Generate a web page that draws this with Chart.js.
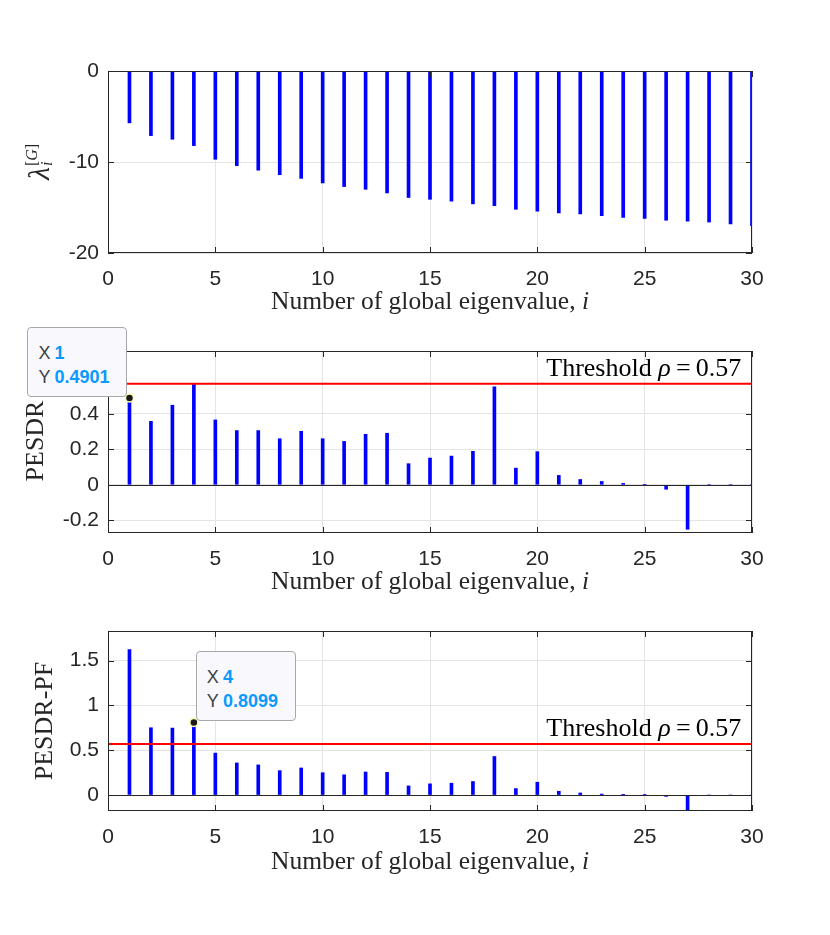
<!DOCTYPE html>
<html>
<head>
<meta charset="utf-8">
<script src="https://cdn.jsdelivr.net/npm/chart.js@4.4.0/dist/chart.umd.min.js"></script>
<style>
  body { margin: 0; background: #fff; }
  #wrap { position: relative; width: 830px; height: 935px; overflow: hidden; background: #fff; }
  canvas { position: absolute; left: 0; }
  .ttl { position: absolute; font-family: "Liberation Serif", "Times New Roman", serif; font-size: 25.5px;
         line-height: 24px; color: #262626; white-space: nowrap; }
  .xt { transform: translateX(-50%); }
  .yt { font-size: 26px; transform: translate(-50%, -50%) rotate(-90deg); }
  .lam { display: inline-flex; align-items: center; font-size: 30px; }
  .ss { display: inline-flex; flex-direction: column; font-size: 16px; line-height: 15px; margin-left: 1px; }
  .thr { position: absolute; font-family: "Liberation Serif", "Times New Roman", serif; font-size: 26px;
         line-height: 24px; color: #000; white-space: nowrap; transform: translateX(-100%); }
  .tip { position: absolute; width: 100px; height: 70px; box-sizing: border-box; background: #f9f9fd;
         border: 1px solid #a8a8a8; border-radius: 4px; font-family: "Liberation Sans", Arial, sans-serif;
         font-size: 18px; line-height: 24px; color: #404040; padding: 13px 0 0 10px; }
  .tip b { color: #0a99ff; margin-left: 4px; }
</style>
</head>
<body>
<div id="wrap">
  <canvas id="c1" width="830" height="320" style="top:0px"></canvas>
  <canvas id="c2" width="830" height="280" style="top:320px"></canvas>
  <canvas id="c3" width="830" height="335" style="top:600px"></canvas>

  <div class="ttl yt" style="left:39px;top:162px"><span class="lam"><i>λ</i><span class="ss"><span>[<i>G</i>]</span><span><i>i</i></span></span></span></div>
  <div class="ttl yt" style="left:35px;top:441px">PESDR</div>
  <div class="ttl yt" style="left:44px;top:721px">PESDR-PF</div>

  <div class="ttl xt" style="left:430px;top:289px">Number of global eigenvalue, <i>i</i></div>
  <div class="ttl xt" style="left:430px;top:569px">Number of global eigenvalue, <i>i</i></div>
  <div class="ttl xt" style="left:430px;top:849px">Number of global eigenvalue, <i>i</i></div>

  <div class="thr" id="thr2">Threshold <i>ρ</i>&thinsp;=&thinsp;0.57</div>
  <div class="thr" id="thr3">Threshold <i>ρ</i>&thinsp;=&thinsp;0.57</div>

  <div class="tip" id="tip2">X<b>1</b><br>Y<b>0.4901</b></div>
  <div class="tip" id="tip3">X<b>4</b><br>Y<b>0.8099</b></div>
</div>

<script>
// eigenvalue index
const eigIndex = [1, 2, 3, 4, 5, 6, 7, 8, 9, 10, 11, 12, 13, 14, 15,
                  16, 17, 18, 19, 20, 21, 22, 23, 24, 25, 26, 27, 28, 29, 30];

// global eigenvalues lambda_i^[G]
const lambdaG = [-5.7, -7.1, -7.5, -8.2, -9.7, -10.4, -10.9, -11.4, -11.8, -12.3,
                 -12.7, -13.0, -13.4, -13.9, -14.1, -14.3, -14.6, -14.8, -15.2, -15.4,
                 -15.6, -15.7, -15.9, -16.1, -16.2, -16.4, -16.5, -16.6, -16.8, -17.0];

// PESDR
const pesdr = [0.4901, 0.358, 0.449, 0.566, 0.366, 0.306, 0.306, 0.260, 0.302, 0.260,
               0.245, 0.285, 0.291, 0.119, 0.151, 0.162, 0.189, 0.553, 0.094, 0.187,
               0.053, 0.030, 0.019, 0.008, 0.002, -0.025, -0.251, 0, 0, 0];

// PESDR-PF
const pesdrPF = [1.623, 0.751, 0.747, 0.8099, 0.468, 0.358, 0.336, 0.272, 0.302, 0.249,
                 0.226, 0.257, 0.253, 0.102, 0.125, 0.132, 0.151, 0.430, 0.072, 0.143,
                 0.042, 0.023, 0.011, 0.008, 0.002, -0.015, -0.19, 0, 0, 0];

const threshold = 0.57;

const xTicks = [0, 5, 10, 15, 20, 25, 30];
const yTicksTop = [-20, -10, 0];
const yTicksMid = [-0.2, 0, 0.2, 0.4];
const yTicksBot = [0, 0.5, 1, 1.5];

const AX = '#262626';

// box, inward ticks, stem baseline, datatip dot, html overlays
const framePlugin = {
  id: 'frame',
  afterDatasetsDraw(chart, args, o) {
    if (!o.baseline) return;
    const { ctx, chartArea: a } = chart;
    const y0 = Math.round(chart.scales.y.getPixelForValue(0)) + 0.5;
    ctx.save();
    ctx.strokeStyle = AX;
    ctx.lineWidth = 1;
    ctx.beginPath();
    ctx.moveTo(a.left, y0);
    ctx.lineTo(a.right, y0);
    ctx.stroke();
    ctx.restore();
  },
  afterDraw(chart, args, o) {
    const { ctx, chartArea: a } = chart;
    const xs = chart.scales.x, ys = chart.scales.y;
    ctx.save();
    ctx.strokeStyle = AX;
    ctx.lineWidth = 1;
    ctx.strokeRect(a.left + 0.5, a.top + 0.5, a.right - a.left - 1, a.bottom - a.top - 1);
    ctx.beginPath();
    xs.ticks.forEach(t => {
      const px = Math.round(xs.getPixelForValue(t.value)) + 0.5;
      ctx.moveTo(px, a.bottom); ctx.lineTo(px, a.bottom - 6);
      ctx.moveTo(px, a.top); ctx.lineTo(px, a.top + 6);
    });
    ys.ticks.forEach(t => {
      const py = Math.round(ys.getPixelForValue(t.value)) + 0.5;
      ctx.moveTo(a.left, py); ctx.lineTo(a.left + 6, py);
      ctx.moveTo(a.right, py); ctx.lineTo(a.right - 6, py);
    });
    ctx.stroke();

    const offTop = chart.canvas.offsetTop;
    if (o.tip) {
      const px = xs.getPixelForValue(o.tip.x);
      const py = ys.getPixelForValue(o.tip.y);
      ctx.beginPath();
      ctx.arc(px, py, 4, 0, Math.PI * 2);
      ctx.fillStyle = '#1a1a1a';
      ctx.fill();
      ctx.strokeStyle = '#ffffb0';
      ctx.lineWidth = 1.5;
      ctx.stroke();
      const el = document.getElementById(o.tip.el);
      const left = o.tip.side === 'left' ? px - 2 - 100 : px + 2;
      el.style.left = left + 'px';
      el.style.top = (offTop + py - 1 - 70) + 'px';
    }
    if (o.label) {
      const el = document.getElementById(o.label.el);
      el.style.left = xs.getPixelForValue(o.label.x) + 'px';
      el.style.top = (offTop + ys.getPixelForValue(threshold) - 8 - 20) + 'px';
    }
    ctx.restore();
  }
};

function stems(vals) {
  return eigIndex.map((x, i) => ({ x: x, y: vals[i] }));
}

function makePanel(canvasId, plotTop, plotBottom, vals, yMin, yMax, yTicks, extra) {
  const canvas = document.getElementById(canvasId);
  const top = canvas.offsetTop;
  const datasets = [{
    type: 'bar',
    data: stems(vals),
    backgroundColor: '#0000ff',
    borderWidth: 0,
    barThickness: 3,
    order: 2
  }];
  if (extra.threshold) {
    datasets.push({
      type: 'line',
      data: [{ x: 0, y: threshold }, { x: 30, y: threshold }],
      borderColor: '#ff0000',
      borderWidth: 2,
      pointRadius: 0,
      order: 1
    });
  }
  return new Chart(canvas, {
    type: 'bar',
    data: { datasets },
    plugins: [framePlugin],
    options: {
      responsive: false,
      animation: false,
      devicePixelRatio: 1,
      layout: { padding: { left: 0, right: 830 - 752, top: plotTop - top, bottom: 0 } },
      scales: {
        x: {
          type: 'linear', min: 0, max: 30, offset: false,
          afterBuildTicks: s => { s.ticks = xTicks.map(v => ({ value: v })); },
          afterFit: s => { s.height = canvas.height - (plotBottom - top); },
          grid: { color: '#e4e4e4', drawTicks: false, offset: false },
          border: { display: false },
          ticks: { color: AX, padding: 14, font: { family: 'Liberation Sans', size: 21 },
                   callback: v => String(v), maxRotation: 0 }
        },
        y: {
          type: 'linear', min: yMin, max: yMax,
          afterBuildTicks: s => { s.ticks = yTicks.map(v => ({ value: v })); },
          afterFit: s => { s.width = 108; },
          grid: { color: '#e4e4e4', drawTicks: false },
          border: { display: false },
          ticks: { color: AX, padding: 9, font: { family: 'Liberation Sans', size: 21 },
                   callback: v => String(v) }
        }
      },
      plugins: {
        legend: { display: false },
        tooltip: { enabled: false },
        frame: { baseline: extra.baseline, tip: extra.tip, label: extra.label }
      }
    }
  });
}

makePanel('c1', 71, 253, lambdaG, -20, 0, yTicksTop, { baseline: false });
makePanel('c2', 351, 533, pesdr, -0.272, 0.755, yTicksMid, {
  baseline: true, threshold: true,
  tip: { x: 1, y: 0.4901, side: 'left', el: 'tip2' },
  label: { x: 29.5, el: 'thr2' }
});
makePanel('c3', 631, 811, pesdrPF, -0.178, 1.83, yTicksBot, {
  baseline: true, threshold: true,
  tip: { x: 4, y: 0.8099, side: 'right', el: 'tip3' },
  label: { x: 29.5, el: 'thr3' }
});
</script>
</body>
</html>
